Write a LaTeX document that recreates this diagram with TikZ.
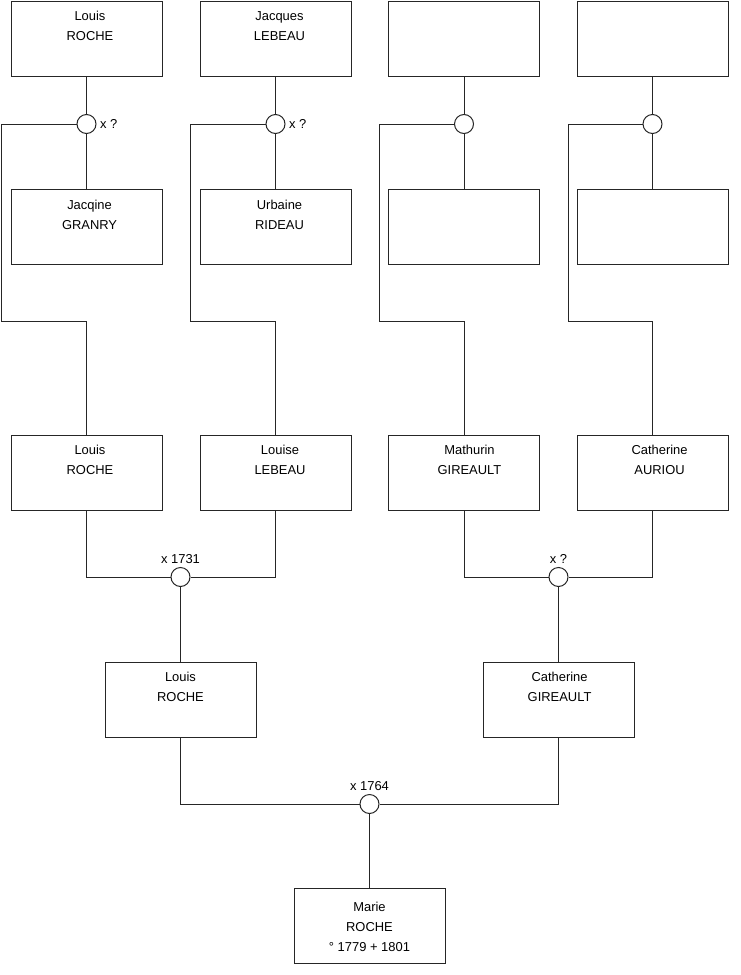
\documentclass[tikz,border=0pt]{standalone}
\usepackage{fontspec}
\setmainfont{Liberation Sans}
\usetikzlibrary{positioning, calc}

\tikzset{
	personbox/.style={draw=black!85, line width=0.75pt, minimum width=113.25pt, minimum height=56.25pt, inner sep=0pt},
	persontext/.style={anchor=north, align=center, inner sep=0pt, font=\fontsize{9.7}{15}\selectfont},
	wedding/.style={circle, draw=black!85, fill=white, line width=0.75pt, minimum size=14.25pt, inner sep=0pt},
	datelabel/.style={inner sep=1pt, font=\fontsize{9.7}{11}\selectfont},
	link/.style={line width=0.75pt, draw=black!85}
}

\begin{document}
\begin{tikzpicture}[x=0.75pt, y=-0.75pt]
		\useasboundingbox (0,0) rectangle (740,975);
		% 第一代
		\node[personbox] (louisA) at (86.5,38.5) {};
		\node[personbox] (jacques) at (275.5,38.5) {};
		\node[personbox] (inconnuA) at (464,38.5) {};
		\node[personbox] (inconnuB) at (652.5,38.5) {};
		\node[persontext] at ([xshift=2.6pt, yshift=-8pt]louisA.north) {Louis\\ROCHE};
		\node[persontext] at ([xshift=3pt, yshift=-8pt]jacques.north) {Jacques\\LEBEAU};
		% 配偶
		\node[personbox] (jacqine) at (86.5,227) {};
		\node[personbox] (urbaine) at (275.5,227) {};
		\node[personbox] (inconnuC) at (464,227) {};
		\node[personbox] (inconnuD) at (652.5,227) {};
		\node[persontext] at ([xshift=2.3pt, yshift=-8pt]jacqine.north) {Jacqine\\GRANRY};
		\node[persontext] at ([xshift=3pt, yshift=-8pt]urbaine.north) {Urbaine\\RIDEAU};
		% 第二代
		\node[personbox] (louisB) at (86.5,472.5) {};
		\node[personbox] (louise) at (275.5,472.5) {};
		\node[personbox] (mathurin) at (464,472.5) {};
		\node[personbox] (catherineA) at (652.5,472.5) {};
		\node[persontext] at ([xshift=2.6pt, yshift=-8pt]louisB.north) {Louis\\ROCHE};
		\node[persontext] at ([xshift=3.4pt, yshift=-8pt]louise.north) {Louise\\LEBEAU};
		\node[persontext] at ([xshift=4.1pt, yshift=-8pt]mathurin.north) {Mathurin\\GIREAULT};
		\node[persontext] at ([xshift=5.3pt, yshift=-8pt]catherineA.north) {Catherine\\AURIOU};
		% 第三代
		\node[personbox] (louisC) at (180.5,699.5) {};
		\node[personbox] (catherineB) at (558.5,699.5) {};
		\node[persontext] at ([yshift=-8pt]louisC.north) {Louis\\ROCHE};
		\node[persontext] at ([xshift=0.8pt, yshift=-8pt]catherineB.north) {Catherine\\GIREAULT};
		% 第四代
		\node[personbox] (marie) at (369.5,925.5) {};
		\node[persontext] at ([yshift=-11pt]marie.north) {Marie\\ROCHE\\° 1779 + 1801};
		% 婚姻圆圈
		\node[wedding] (mA) at (86.5,124) {};
		\node[wedding] (mB) at (275.5,124) {};
		\node[wedding] (mC) at (464,124) {};
		\node[wedding] (mD) at (652.5,124) {};
		\node[wedding] (mE) at (180.5,577) {};
		\node[wedding] (mF) at (558.5,577) {};
		\node[wedding] (mG) at (369.5,804) {};
		\node[datelabel, right=1.5pt of mA] {x ?};
		\node[datelabel, right=1.5pt of mB] {x ?};
		\node[datelabel, above=1.5pt of mE] {x 1731};
		\node[datelabel, above=1.5pt of mF] {x ?};
		\node[datelabel, above=1.5pt of mG] {x 1764};
		% 连线
		\draw[link] (louisA) -- (mA) -- (jacqine);
		\draw[link] (jacques) -- (mB) -- (urbaine);
		\draw[link] (inconnuA) -- (mC) -- (inconnuC);
		\draw[link] (inconnuB) -- (mD) -- (inconnuD);
		\draw[link] (mA.west) -| (1,321) -| (louisB.north);
		\draw[link] (mB.west) -| (190,321) -| (louise.north);
		\draw[link] (mC.west) -| (379,321) -| (mathurin.north);
		\draw[link] (mD.west) -| (568,321) -| (catherineA.north);
		\draw[link] (louisB.south) |- (mE.west);
		\draw[link] (louise.south) |- (mE.east);
		\draw[link] (mathurin.south) |- (mF.west);
		\draw[link] (catherineA.south) |- (mF.east);
		\draw[link] (mE) -- (louisC);
		\draw[link] (mF) -- (catherineB);
		\draw[link] (louisC.south) |- (mG.west);
		\draw[link] (catherineB.south) |- (mG.east);
		\draw[link] (mG) -- (marie);
	\end{tikzpicture}
\end{document}
